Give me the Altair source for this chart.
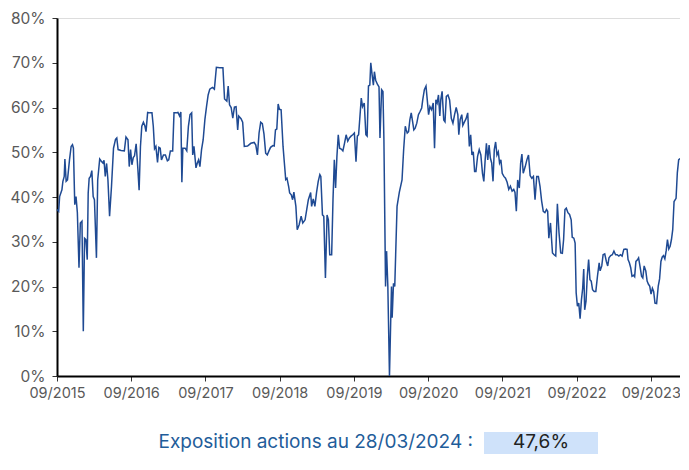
import altair as alt
import pandas as pd

# Decimal years (09/2015 = 2015.667)
years = [
    2015.667, 2015.689, 2015.702, 2015.733, 2015.746, 2015.764, 2015.773, 2015.790, 2015.808, 2015.835,
    2015.857, 2015.875, 2015.888, 2015.906, 2015.923, 2015.941, 2015.963, 2015.981, 2016.003, 2016.021,
    2016.038, 2016.056, 2016.074, 2016.087, 2016.100, 2016.118, 2016.136, 2016.154, 2016.171, 2016.198,
    2016.215, 2016.242, 2016.264, 2016.286, 2016.300, 2016.317, 2016.335, 2016.353, 2016.375, 2016.401,
    2016.428, 2016.455, 2016.472, 2016.490, 2016.530, 2016.574, 2016.596, 2016.623, 2016.640, 2016.658,
    2016.676, 2016.694, 2016.711, 2016.733, 2016.756, 2016.773, 2016.791, 2016.809, 2016.831, 2016.849,
    2016.866, 2016.888, 2016.915, 2016.946, 2016.964, 2016.981, 2016.999, 2017.021, 2017.039, 2017.057,
    2017.074, 2017.101, 2017.127, 2017.154, 2017.172, 2017.194, 2017.225, 2017.243, 2017.269, 2017.296,
    2017.318, 2017.335, 2017.349, 2017.362, 2017.393, 2017.415, 2017.437, 2017.459, 2017.481, 2017.495,
    2017.512, 2017.539, 2017.557, 2017.574, 2017.592, 2017.614, 2017.636, 2017.659, 2017.681, 2017.703,
    2017.725, 2017.760, 2017.787, 2017.814, 2017.858, 2017.902, 2017.924, 2017.955, 2017.973, 2017.991,
    2018.013, 2018.035, 2018.057, 2018.079, 2018.101, 2018.115, 2018.146, 2018.168, 2018.190, 2018.234,
    2018.278, 2018.323, 2018.345, 2018.367, 2018.389, 2018.411, 2018.433, 2018.455, 2018.478, 2018.500,
    2018.522, 2018.544, 2018.575, 2018.593, 2018.610, 2018.628, 2018.646, 2018.663, 2018.686, 2018.712,
    2018.730, 2018.748, 2018.765, 2018.787, 2018.801, 2018.823, 2018.841, 2018.858, 2018.885, 2018.903,
    2018.929, 2018.956, 2018.978, 2019.009, 2019.031, 2019.053, 2019.084, 2019.097, 2019.119, 2019.141,
    2019.164, 2019.186, 2019.208, 2019.221, 2019.243, 2019.261, 2019.283, 2019.305, 2019.323, 2019.341,
    2019.367, 2019.385, 2019.403, 2019.420, 2019.438, 2019.456, 2019.474, 2019.496, 2019.518, 2019.540,
    2019.562, 2019.584, 2019.606, 2019.628, 2019.651, 2019.673, 2019.695, 2019.713, 2019.730, 2019.748,
    2019.766, 2019.783, 2019.806, 2019.828, 2019.845, 2019.863, 2019.881, 2019.894, 2019.912, 2019.929,
    2019.943, 2019.960, 2019.983, 2020.005, 2020.018, 2020.040, 2020.058, 2020.071, 2020.093, 2020.107,
    2020.124, 2020.146, 2020.173, 2020.182, 2020.200, 2020.217, 2020.248, 2020.279, 2020.315, 2020.337,
    2020.359, 2020.372, 2020.385, 2020.403, 2020.421, 2020.439, 2020.456, 2020.474, 2020.492, 2020.514,
    2020.536, 2020.558, 2020.580, 2020.594, 2020.616, 2020.638, 2020.655, 2020.673, 2020.691, 2020.713,
    2020.735, 2020.753, 2020.771, 2020.788, 2020.806, 2020.824, 2020.837, 2020.855, 2020.877, 2020.894,
    2020.912, 2020.934, 2020.956, 2020.979, 2021.001, 2021.023, 2021.045, 2021.067, 2021.080, 2021.098,
    2021.120, 2021.134, 2021.156, 2021.178, 2021.200, 2021.222, 2021.240, 2021.257, 2021.275, 2021.293,
    2021.311, 2021.333, 2021.355, 2021.377, 2021.399, 2021.417, 2021.435, 2021.452, 2021.470, 2021.488,
    2021.505, 2021.523, 2021.541, 2021.558, 2021.576, 2021.594, 2021.612, 2021.629, 2021.647, 2021.665,
    2021.687, 2021.709, 2021.731, 2021.753, 2021.775, 2021.798, 2021.820, 2021.837, 2021.855, 2021.873,
    2021.895, 2021.913, 2021.930, 2021.948, 2021.975, 2021.997, 2022.019, 2022.041, 2022.063, 2022.085,
    2022.107, 2022.130, 2022.152, 2022.174, 2022.196, 2022.218, 2022.240, 2022.262, 2022.277, 2022.293,
    2022.315, 2022.342, 2022.364, 2022.386, 2022.408, 2022.430, 2022.453, 2022.475, 2022.492, 2022.510,
    2022.528, 2022.550, 2022.572, 2022.594, 2022.608, 2022.630, 2022.647, 2022.661, 2022.678, 2022.696,
    2022.714, 2022.732, 2022.749, 2022.763, 2022.776, 2022.794, 2022.811, 2022.829, 2022.847, 2022.864,
    2022.882, 2022.904, 2022.926, 2022.948, 2022.971, 2022.984, 2023.006, 2023.024, 2023.046, 2023.068,
    2023.086, 2023.103, 2023.126, 2023.148, 2023.170, 2023.192, 2023.214, 2023.236, 2023.258, 2023.280,
    2023.303, 2023.325, 2023.347, 2023.360, 2023.378, 2023.396, 2023.413, 2023.435, 2023.449, 2023.466,
    2023.484, 2023.502, 2023.524, 2023.542, 2023.559, 2023.577, 2023.599, 2023.617, 2023.635, 2023.652,
    2023.670, 2023.688, 2023.705, 2023.723, 2023.745, 2023.767, 2023.785, 2023.803, 2023.821, 2023.838,
    2023.856, 2023.874, 2023.891, 2023.909, 2023.927, 2023.945, 2023.962, 2023.980, 2024.007, 2024.024,
    2024.042, 2024.060,
]

# Equity exposure in %
exposure = [
    37.2, 36.8, 40.1, 41.6, 43.5, 44.6, 48.5, 43.5, 43.8, 48.3,
    51.3, 51.7, 50.9, 38.3, 40.1, 36.5, 24.2, 34.2, 34.6, 10.0,
    30.8, 30.5, 26.0, 40.9, 44.2, 44.6, 45.9, 40.1, 39.4, 26.4,
    43.8, 48.5, 48.0, 47.6, 48.2, 44.6, 47.5, 43.8, 35.7, 42.4,
    50.9, 52.9, 53.2, 50.6, 50.4, 50.3, 53.4, 52.8, 46.8, 50.6,
    47.2, 48.8, 49.2, 51.9, 46.3, 41.5, 51.3, 55.8, 56.7, 56.0,
    54.6, 58.9, 58.8, 58.8, 55.8, 50.8, 51.3, 47.7, 51.1, 50.9,
    48.3, 49.4, 49.4, 48.1, 48.3, 50.3, 50.3, 58.8, 58.8, 58.9,
    58.1, 59.0, 43.3, 50.9, 50.9, 50.3, 55.8, 58.4, 58.8, 49.4,
    51.3, 46.5, 47.6, 48.3, 46.8, 50.6, 52.8, 57.3, 60.2, 62.8,
    64.1, 64.5, 64.1, 69.0, 68.9, 68.9, 61.9, 61.4, 64.8, 60.6,
    60.0, 57.6, 60.1, 60.2, 55.0, 58.1, 57.5, 56.7, 51.3, 51.4,
    52.0, 52.2, 51.6, 49.4, 54.3, 56.7, 56.4, 54.1, 49.8, 49.4,
    50.3, 51.1, 51.5, 51.4, 55.0, 55.2, 60.8, 59.6, 59.5, 51.3,
    47.6, 43.9, 44.2, 42.4, 40.9, 40.5, 39.4, 41.1, 37.9, 32.7,
    33.8, 35.7, 34.2, 34.9, 37.2, 39.4, 41.0, 37.9, 39.6, 37.9,
    41.1, 43.5, 45.0, 44.6, 36.0, 35.7, 21.9, 36.0, 34.9, 27.1,
    27.1, 39.4, 48.3, 42.0, 49.1, 53.9, 50.9, 50.7, 50.3, 52.0,
    53.9, 52.5, 53.2, 53.6, 53.9, 54.3, 47.9, 53.6, 53.9, 58.0,
    62.1, 60.2, 61.0, 53.9, 53.6, 64.8, 65.0, 70.0, 67.3, 65.0,
    68.0, 66.1, 65.2, 64.6, 53.2, 64.0, 63.6, 52.8, 20.0, 27.9,
    20.0, 0.0, 20.0, 13.0, 20.7, 20.0, 37.9, 41.1, 43.8, 50.6,
    55.8, 55.0, 54.3, 54.6, 57.3, 58.8, 57.0, 55.0, 55.4, 56.5,
    58.4, 59.1, 59.9, 61.7, 64.0, 64.8, 61.7, 58.4, 60.2, 59.5,
    61.0, 50.9, 61.7, 61.0, 62.8, 58.1, 61.7, 63.6, 57.2, 56.8,
    62.5, 62.8, 61.7, 57.6, 56.5, 58.4, 60.0, 58.4, 53.9, 57.3,
    58.4, 56.0, 56.8, 57.5, 58.8, 51.3, 53.9, 49.4, 50.1, 45.7,
    45.7, 49.1, 50.6, 49.4, 45.3, 43.5, 48.3, 52.0, 48.3, 51.6,
    48.7, 47.6, 43.5, 50.6, 52.3, 49.4, 50.1, 47.6, 48.3, 45.3,
    44.6, 44.2, 43.3, 41.7, 42.4, 41.3, 41.7, 41.0, 36.8, 43.8,
    42.0, 47.6, 49.6, 45.3, 46.8, 48.3, 49.4, 44.8, 44.2, 44.6,
    39.4, 44.6, 44.6, 42.4, 39.1, 36.8, 36.5, 37.2, 36.8, 30.8,
    34.2, 27.5, 27.1, 26.8, 38.5, 32.0, 27.5, 27.4, 30.5, 37.2,
    37.5, 36.5, 36.1, 34.9, 31.0, 30.8, 29.7, 18.6, 15.6, 16.3,
    12.8, 17.0, 19.6, 23.9, 14.8, 16.7, 22.3, 26.0, 21.5, 21.2,
    19.3, 18.9, 18.9, 22.3, 25.3, 23.5, 24.6, 27.1, 27.3, 25.6,
    24.6, 26.4, 26.9, 27.1, 27.9, 27.1, 27.1, 26.8, 27.1, 26.8,
    28.3, 28.4, 28.3, 26.0, 25.3, 24.2, 22.3, 22.5, 22.2, 25.6,
    25.9, 26.4, 24.2, 22.3, 21.9, 24.6, 23.5, 21.2, 20.5, 20.1,
    18.3, 19.6, 18.9, 16.3, 16.2, 20.1, 21.7, 25.6, 26.6, 26.9,
    26.2, 28.0, 30.5, 28.4, 29.0, 30.5, 32.7, 39.0, 39.7, 45.4,
    48.3, 48.6,
]

tick_years = [2015, 2016, 2017, 2018, 2019, 2020, 2021, 2022, 2023]
y_ticks = [0, 10, 20, 30, 40, 50, 60, 70, 80]
caption_label = "Exposition actions au 28/03/2024 :"
caption_value = "47,6%"

FONT = "Inter"
LINE_COLOR = "#1f4a93"

df = pd.DataFrame({"t": years, "v": [e / 100 for e in exposure]})

x_start = 2015 + 8 / 12
tick_pos = [y + 8 / 12 for y in tick_years]

W, H = 623, 358

line = alt.Chart(df).mark_line(color=LINE_COLOR, strokeWidth=1.5).encode(
    x=alt.X("t:Q",
            scale=alt.Scale(domain=[x_start, max(years)], nice=False, zero=False),
            axis=alt.Axis(values=tick_pos, labelExpr="'09/' + floor(datum.value + 0.01)",
                          title=None, grid=False, domainColor="black", domainWidth=2,
                          tickColor="#333333", tickSize=5, tickWidth=1,
                          labelColor="#595959", labelFontSize=14.5, labelFont=FONT,
                          labelPadding=5, labelFlush=False)),
    y=alt.Y("v:Q",
            scale=alt.Scale(domain=[0, 0.8], nice=False),
            axis=alt.Axis(values=[v / 100 for v in y_ticks], format=".0%",
                          title=None, grid=False, domainColor="black", domainWidth=2,
                          tickColor="#333333", tickSize=5, tickWidth=1,
                          labelColor="#595959", labelFontSize=15.5, labelFont=FONT,
                          labelPadding=7)),
)

cap_df = pd.DataFrame({"label": [caption_label], "value": [caption_value]})

box = alt.Chart(cap_df).mark_rect(color="#cfe2fa").encode(
    x=alt.value(427), x2=alt.value(541), y=alt.value(414), y2=alt.value(436),
)
label_txt = alt.Chart(cap_df).mark_text(
    align="right", baseline="alphabetic", font=FONT, fontSize=19, color="#1f5d9a"
).encode(x=alt.value(416), y=alt.value(430), text="label:N")
value_txt = alt.Chart(cap_df).mark_text(
    align="center", baseline="alphabetic", font=FONT, fontSize=19, color="#222222"
).encode(x=alt.value(484), y=alt.value(430), text="value:N")

chart = alt.layer(line, box, label_txt, value_txt).properties(
    width=W, height=H,
    autosize=alt.AutoSizeParams(type="none"),
    padding={"left": 49, "top": 10, "right": 0, "bottom": 80},
).configure_view(stroke=None).configure(background="white")

chart.save("out.html", embed_options={"renderer": "svg", "actions": False})
